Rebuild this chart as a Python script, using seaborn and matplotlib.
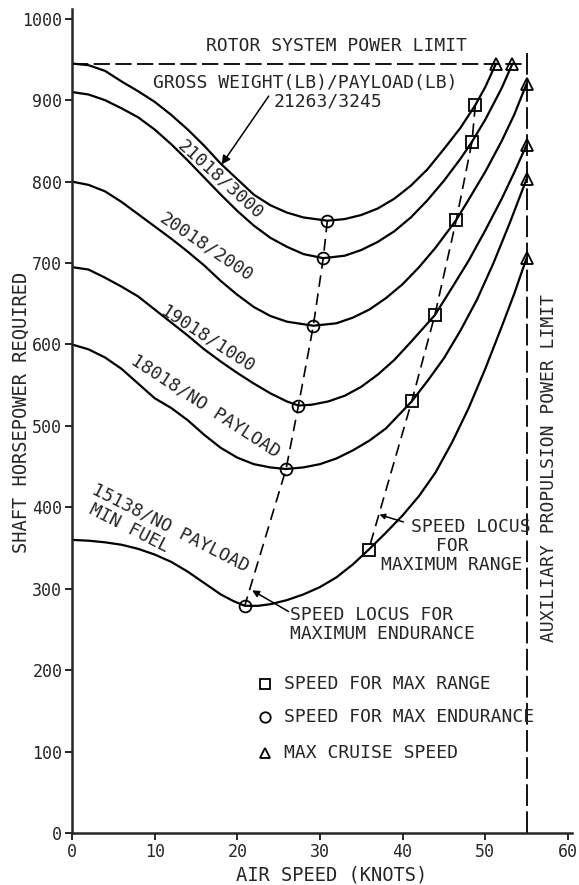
import numpy as np
import pandas as pd
import matplotlib
matplotlib.use("Agg")
import matplotlib.pyplot as plt
import seaborn as sns

# ---------------- data ----------------
curve_labels = ["21263/3245", "21018/3000", "20018/2000", "19018/1000",
                "18018/NO PAYLOAD", "15138/NO PAYLOAD"]

a_x = [0, 2, 4, 6, 8, 10, 12, 14, 16, 18, 20, 22, 24, 26, 28, 30.9,
       33, 35, 37, 39, 41, 43, 45, 47, 48.8, 50, 51.3]
a_y = [945, 943, 936, 923, 911, 898, 882, 864, 844, 822, 803, 784, 771, 762, 756, 752,
       754, 759, 767, 779, 795, 815, 840, 866, 894, 916, 945]

b_x = [0, 2, 4, 6, 8, 10, 12, 14, 16, 18, 20, 22, 24, 26, 28, 30.4,
       33, 35, 37, 39, 41, 43, 45, 47, 48.4, 50, 52, 53.3]
b_y = [910, 907, 900, 890, 879, 864, 846, 826, 805, 784, 764, 746, 731, 720, 711, 706,
       709, 716, 726, 739, 756, 777, 801, 828, 849, 876, 915, 945]

c_x = [0, 2, 4, 6, 8, 10, 12, 14, 16, 18, 20, 22, 24, 26, 29.2,
       32, 34, 36, 38, 40, 42, 44, 46.5, 48, 50, 52, 53.5, 55]
c_y = [800, 796, 788, 775, 760, 745, 730, 714, 697, 678, 661, 646, 635, 628, 623,
       626, 633, 643, 657, 674, 695, 719, 753, 778, 812, 850, 882, 920]

d_x = [0, 2, 4, 6, 8, 10, 12, 14, 16, 18, 20, 22, 24, 26, 27.4,
       29, 31, 33, 35, 37, 39, 41, 43.9, 46, 48, 50, 52, 53.5, 55]
d_y = [695, 692, 682, 671, 659, 643, 627, 611, 594, 579, 565, 552, 540, 530, 525,
       526, 530, 537, 548, 563, 581, 603, 636, 670, 703, 740, 779, 811, 845]

e_x = [0, 2, 4, 6, 8, 10, 12, 14, 16, 18, 20, 22, 24, 25.9,
       28, 30, 32, 34, 36, 38, 41.1, 43, 45, 47, 49, 51, 53, 55]
e_y = [600, 594, 584, 570, 552, 534, 522, 507, 489, 473, 461, 453, 449, 447,
       449, 453, 460, 470, 482, 497, 530, 555, 583, 617, 655, 700, 750, 803]

f_x = [0, 2, 4, 6, 8, 10, 12, 14, 16, 18, 19.5, 20.9,
       22.5, 24, 26, 28, 30, 32, 34, 35.9, 38, 40, 42, 44, 46, 48, 50, 52, 53.5, 55]
f_y = [360, 359, 357, 354, 349, 342, 333, 321, 307, 293, 285, 279,
       279, 281, 286, 293, 302, 314, 330, 348, 369, 390, 414, 443, 480, 522, 570, 622, 662, 706]

# marker points
range_x = [48.8, 48.4, 46.5, 43.9, 41.1, 35.9]
range_y = [894, 849, 753, 636, 530, 348]
endur_x = [30.9, 30.4, 29.2, 27.4, 25.9, 20.9]
endur_y = [752, 706, 623, 525, 447, 279]
cruise_x = [51.3, 53.3, 55, 55, 55, 55]
cruise_y = [945, 945, 920, 845, 803, 706]

rotor_limit = 945
aux_limit = 55

x_ticks = [0, 10, 20, 30, 40, 50, 60]
y_ticks = [0, 100, 200, 300, 400, 500, 600, 700, 800, 900, 1000]

legend_labels = ["SPEED FOR MAX RANGE", "SPEED FOR MAX ENDURANCE", "MAX CRUISE SPEED"]

# ---------------- figure ----------------
sns.set_style("ticks")
plt.rcParams["font.family"] = ["DejaVu Sans Mono", "DejaVu Sans"]

fig = plt.figure(figsize=(5.79, 8.85), dpi=100)
ax = fig.add_axes([72 / 579, 52 / 885, 500 / 579, 824 / 885])

curves = [(a_x, a_y), (b_x, b_y), (c_x, c_y), (d_x, d_y), (e_x, e_y), (f_x, f_y)]
for (cx, cy), lab in zip(curves, curve_labels):
    df = pd.DataFrame({"x": cx, "y": cy})
    sns.lineplot(data=df, x="x", y="y", color="black", linewidth=1.6,
                 sort=False, estimator=None, ax=ax, legend=False)

# reference lines
ax.plot([0, aux_limit], [rotor_limit, rotor_limit], color="black", lw=1.3,
        dashes=(9, 3))
ax.plot([aux_limit, aux_limit], [0, 962], color="black", lw=1.3, dashes=(12, 3))

# loci
ax.plot(endur_x, endur_y, color="black", lw=1.2, dashes=(7, 4))
ax.plot(range_x, range_y, color="black", lw=1.2, dashes=(7, 4))

# markers
mk = dict(linestyle="none", mfc="none", mec="black", mew=1.3, zorder=5)
ax.plot(range_x, range_y, marker="s", ms=8, **mk)
ax.plot(endur_x, endur_y, marker="o", ms=8.5, **mk)
ax.plot(cruise_x, cruise_y, marker="^", ms=9, **mk)

# axes
ax.set_xlim(0, 60.5)
ax.set_ylim(0, 1012)
ax.set_xticks(x_ticks)
ax.set_yticks(y_ticks)
for s in ["top", "right"]:
    ax.spines[s].set_visible(False)
for s in ["left", "bottom"]:
    ax.spines[s].set_linewidth(1.8)
ax.tick_params(direction="out", length=5, width=1.4, labelsize=12, pad=2)
ax.set_xlabel("AIR SPEED (KNOTS)", fontsize=13.5)
ax.set_ylabel("SHAFT HORSEPOWER REQUIRED", fontsize=13.5)
ax.xaxis.set_label_coords(0.52, -0.04)
ax.yaxis.set_label_coords(-0.082, 0.51)

fs = 13
# top texts
ax.text(32.0, 966, "ROTOR SYSTEM POWER LIMIT", ha="center", va="center", fontsize=fs)
ax.text(28.2, 921, "GROSS WEIGHT(LB)/PAYLOAD(LB)", ha="center", va="center", fontsize=fs)
ax.text(31.0, 898, curve_labels[0], ha="center", va="center", fontsize=fs)
ax.annotate("", xy=(18.1, 821), xytext=(23.8, 905),
            arrowprops=dict(arrowstyle="-|>", color="black", lw=1.1,
                            mutation_scale=13, shrinkA=0, shrinkB=0))

# curve labels (rotated)
rot_kw = dict(ha="center", va="center", rotation_mode="anchor", fontsize=fs)
ax.text(18.0, 803, curve_labels[1], rotation=-42, **rot_kw)
ax.text(16.2, 720, curve_labels[2], rotation=-34, **rot_kw)
ax.text(16.5, 606, curve_labels[3], rotation=-33, **rot_kw)
ax.text(16.2, 524, curve_labels[4], rotation=-33, **rot_kw)
ax.text(2.3, 418, curve_labels[5], rotation=-27, ha="left", va="baseline",
        rotation_mode="anchor", fontsize=fs)
ax.text(1.9, 393, "MIN FUEL", rotation=-27, ha="left", va="baseline",
        rotation_mode="anchor", fontsize=fs)

# locus annotations
ax.text(26.4, 268, "SPEED LOCUS FOR", ha="left", va="center", fontsize=fs)
ax.text(26.4, 245, "MAXIMUM ENDURANCE", ha="left", va="center", fontsize=fs)
ax.annotate("", xy=(21.8, 298), xytext=(26.2, 272),
            arrowprops=dict(arrowstyle="-|>", color="black", lw=1.1,
                            mutation_scale=10, shrinkA=0, shrinkB=0))

ax.text(48.2, 376, "SPEED LOCUS", ha="center", va="center", fontsize=fs)
ax.text(46.0, 353, "FOR", ha="center", va="center", fontsize=fs)
ax.text(46.0, 329, "MAXIMUM RANGE", ha="center", va="center", fontsize=fs)
ax.annotate("", xy=(37.2, 391), xytext=(40.1, 382),
            arrowprops=dict(arrowstyle="-|>", color="black", lw=1.1,
                            mutation_scale=8, shrinkA=0, shrinkB=0))

# aux limit text
ax.text(57.7, 448, "AUXILIARY PROPULSION POWER LIMIT", rotation=90,
        ha="center", va="center", fontsize=fs)

# legend (manual)
leg_y = [183, 143, 98]
leg_m = ["s", "o", "^"]
for yy, m, lab in zip(leg_y, leg_m, legend_labels):
    ax.plot([23.4], [yy], marker=m, ms=7.5, **mk)
    ax.text(25.6, yy, lab, ha="left", va="center", fontsize=fs)

fig.savefig("out.png", dpi=100)
